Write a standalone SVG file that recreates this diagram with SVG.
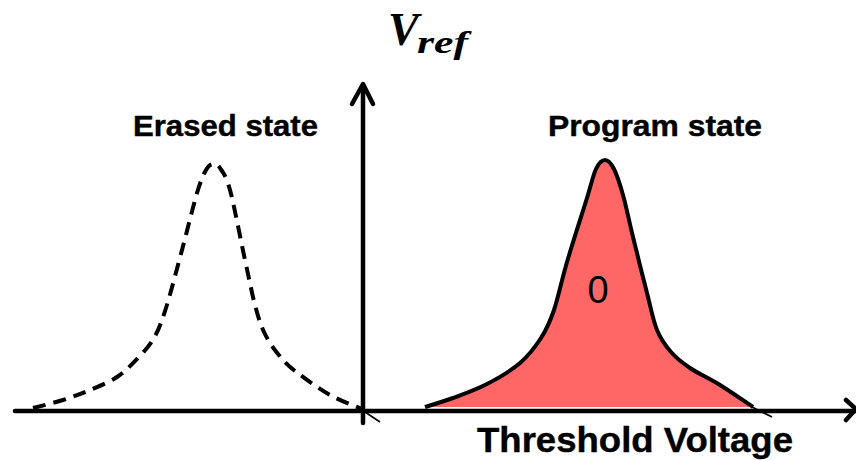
<svg xmlns="http://www.w3.org/2000/svg" width="856" height="460" viewBox="0 0 856 460">
<style>
.axis{fill:none;stroke:#000;stroke-width:4.5;stroke-linecap:round;stroke-linejoin:round}
.lbl{font-family:"Liberation Sans",Arial,sans-serif;font-weight:bold;fill:#000;stroke:#000;stroke-width:0.4}
.dist{stroke:#000;stroke-width:4;stroke-linejoin:round}
.tail{fill:none;stroke:#000;stroke-width:1.6}
</style>
<rect width="856" height="460" fill="#fff"/>
<g id="erased">
<path class="dist" fill="none" stroke-dasharray="13 8" d="M33,408 C38,406.7 53.5,403 63,400 C72.5,397 81,393.8 90,390 C99,386.2 109,382.3 117,377 C125,371.7 131.8,364.5 138,358 C144.2,351.5 149.3,346.3 154,338 C158.7,329.7 161.3,322.7 166,308 C170.7,293.3 176.8,269.2 182,250 C187.2,230.8 193,206.3 197,193 C201,179.7 203.3,174.8 206,170 C208.7,165.2 210.7,164.3 213,164 C215.3,163.7 217.2,163.7 220,168 C222.8,172.3 225.8,174.7 230,190 C234.2,205.3 240.8,240.8 245,260 C249.2,279.2 251.8,293 255,305 C258.2,317 260.2,323.8 264,332 C267.8,340.2 272.8,347.5 278,354 C283.2,360.5 286.3,364.2 295,371 C303.7,377.8 318.8,388.7 330,395 C341.2,401.3 356.7,406.7 362,409"/>
<path class="tail" d="M362,410 L380,422"/>
<text class="lbl" x="133" y="136" font-size="29" textLength="185" lengthAdjust="spacingAndGlyphs">Erased state</text>
</g>
<g id="program">
<path id="pcurve" class="dist" fill="#FF6666" d="M425,407 C429.7,405.5 442.7,401.8 453,398 C463.3,394.2 475.8,389.8 487,384 C498.2,378.2 511,370.7 520,363 C529,355.3 535.3,346.8 541,338 C546.7,329.2 549.7,322.7 554,310 C558.3,297.3 561.5,280.7 567,262 C572.5,243.3 582.2,213.5 587,198 C591.8,182.5 593,175.3 596,169 C599,162.7 602,160 605,160 C608,160 611,163.2 614,169 C617,174.8 619.8,183.7 623,195 C626.2,206.3 629,220.7 633,237 C637,253.3 643,277.5 647,293 C651,308.5 653,320.2 657,330 C661,339.8 665.5,345.7 671,352 C676.5,358.3 681.8,362.5 690,368 C698.2,373.5 709.5,378.5 720,385 C730.5,391.5 747.5,403.3 753,407"/>
<path class="tail" d="M752,407 L772,417"/>
<text x="598" y="303" font-family="Liberation Sans,Arial,sans-serif" font-size="38" text-anchor="middle" fill="#000">0</text>
<text class="lbl" x="548" y="136" font-size="29" textLength="214" lengthAdjust="spacingAndGlyphs">Program state</text>
</g>
<g id="axes">
<path class="axis" d="M15,411 L856,411"/>
<path class="axis" d="M846,400 L856,409 L846,420"/>
<path class="axis" d="M363,423 L363,86"/>
<path class="axis" d="M352,104 L363,84 L373,104"/>
</g>
<g id="labels">
<text class="lbl" x="477" y="452" font-size="35" textLength="316" lengthAdjust="spacingAndGlyphs">Threshold Voltage</text>
<text x="388" y="45" font-family="Liberation Serif,Times New Roman,serif" font-weight="bold" font-style="italic" font-size="46" fill="#000">V</text>
<text x="417" y="53" font-family="Liberation Serif,Times New Roman,serif" font-weight="bold" font-style="italic" font-size="32" fill="#000" textLength="51" lengthAdjust="spacingAndGlyphs">ref</text>
</g>
</svg>
